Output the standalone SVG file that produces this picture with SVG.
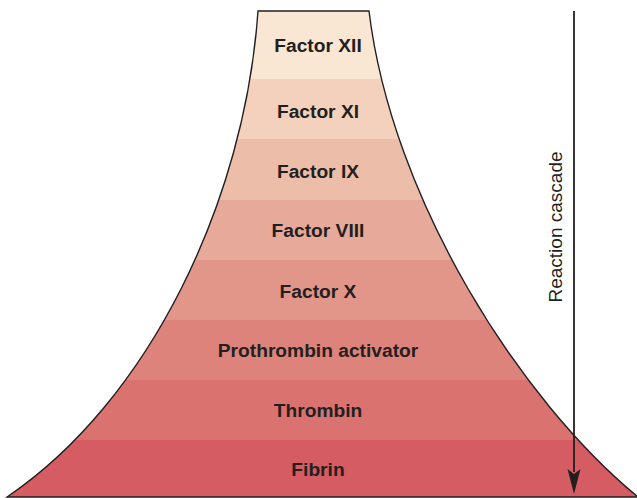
<svg xmlns="http://www.w3.org/2000/svg" width="637" height="498" viewBox="0 0 637 498">
<style>
.lbl{font-family:"Liberation Sans",Arial,sans-serif;font-weight:bold;font-size:19.2px;fill:#231f20;text-anchor:middle}
.side{font-family:"Liberation Sans",Arial,sans-serif;font-size:19px;fill:#231f20;text-anchor:middle}
.edge{fill:none;stroke:#231f20;stroke-width:1.4}
</style>
<defs>
<clipPath id="funnel">
<path d="M258,11 L369,11 C392,200 520,400 638,497 L7,497 C150,400 245,200 258,11 Z"/>
</clipPath>
</defs>
<rect width="637" height="498" fill="#ffffff"/>
<g clip-path="url(#funnel)">
<g id="factor-xii"><rect x="0" y="0" width="637" height="79" fill="#f9e6d3"/></g>
<g id="factor-xi"><rect x="0" y="79" width="637" height="60" fill="#f3d1bd"/></g>
<g id="factor-ix"><rect x="0" y="139" width="637" height="61" fill="#ecbda8"/></g>
<g id="factor-viii"><rect x="0" y="200" width="637" height="60" fill="#e7a999"/></g>
<g id="factor-x"><rect x="0" y="260" width="637" height="60" fill="#e2968a"/></g>
<g id="prothrombin-activator"><rect x="0" y="320" width="637" height="60" fill="#de837b"/></g>
<g id="thrombin"><rect x="0" y="380" width="637" height="60" fill="#da7370"/></g>
<g id="fibrin"><rect x="0" y="440" width="637" height="58" fill="#d45c62"/></g>
</g>
<path class="edge" d="M258,11 L369,11 C392,200 520,400 638,497 L7,497 C150,400 245,200 258,11 Z"/>
<text class="lbl" x="318" y="51.5">Factor XII</text>
<text class="lbl" x="318" y="118">Factor XI</text>
<text class="lbl" x="318" y="177.5">Factor IX</text>
<text class="lbl" x="318" y="236.5">Factor VIII</text>
<text class="lbl" x="318" y="297.5">Factor X</text>
<text class="lbl" x="318" y="357">Prothrombin activator</text>
<text class="lbl" x="318" y="416.5">Thrombin</text>
<text class="lbl" x="318" y="475.5">Fibrin</text>
<g id="connectors">
<line x1="574" y1="11" x2="574" y2="472" stroke="#231f20" stroke-width="1.8"/>
<polygon points="567.5,469 574,474 580.5,469 574,494" fill="#231f20"/>
<text class="side" transform="translate(562,227) rotate(-90)">Reaction cascade</text>
</g>
</svg>
